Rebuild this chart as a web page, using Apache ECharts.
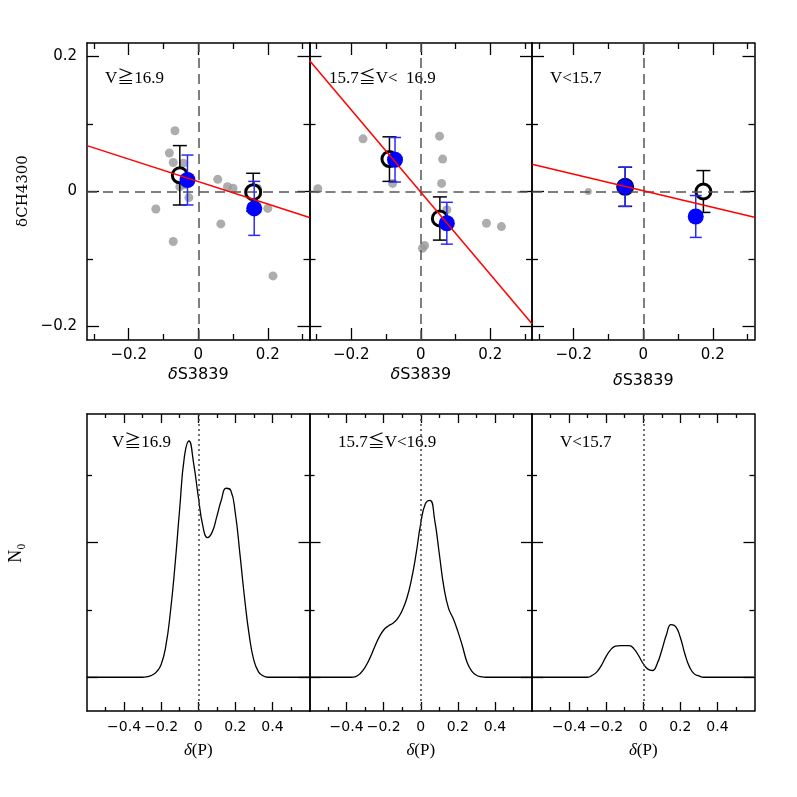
<!DOCTYPE html>
<html>
<head>
<meta charset="utf-8">
<script src="https://cdn.jsdelivr.net/npm/echarts@6/dist/echarts.min.js"></script>
<style>
  html, body { margin: 0; padding: 0; background: #fff; }
  #main { width: 797px; height: 797px; }
</style>
</head>
<body>
<div id="main"></div>
<script>
// ---- top row: dS3839 vs dCH4300 ----
var grey1 = [[-0.067,0.090],[-0.083,0.057],[-0.072,0.043],[-0.043,0.042],[-0.053,0.007],[-0.027,-0.009],
             [-0.040,0.010],[0.056,0.018],[0.084,0.007],[0.100,0.005],[-0.122,-0.026],[-0.072,-0.074],
             [0.065,-0.048],[0.170,0.005],[0.200,-0.025],[0.215,-0.125]];
var black1 = [[-0.053,0.024,0.044],[0.158,-0.001,0.028]];
var blue1 = [[-0.031,0.017,0.037],[0.161,-0.025,0.040]];
var fit1 = [[-0.32,0.068],[0.32,-0.0385]];

var grey2 = [[-0.166,0.078],[-0.296,0.004],[-0.081,0.012],[0.054,0.082],[0.063,0.048],[0.060,0.012],
             [0.075,-0.027],[0.005,-0.084],[0.011,-0.080],[0.189,-0.047],[0.232,-0.052]];
var black2 = [[-0.090,0.048,0.033],[0.055,-0.040,0.032]];
var blue2 = [[-0.074,0.047,0.033],[0.075,-0.047,0.031]];
var fit2 = [[-0.32,0.194],[0.32,-0.196]];

var grey3 = [[-0.158,0.0]];
var black3 = [[-0.052,0.007,0.029],[0.173,0.0,0.031]];
var blue3 = [[-0.052,0.007,0.029],[0.151,-0.037,0.031]];
var fit3 = [[-0.32,0.0405],[0.32,-0.038]];

// ---- bottom row: N0 vs d(P) ----
var curve1 = [[-0.6,0],[-0.3,0],[-0.275,0.01],[-0.25,0.03],[-0.225,0.08],[-0.2,0.19],[-0.175,0.46],[-0.15,0.97],
              [-0.125,1.67],[-0.1,2.50],[-0.075,3.26],[-0.05,3.50],[-0.025,3.17],[0,2.68],[0.025,2.24],[0.05,2.07],
              [0.075,2.15],[0.1,2.38],[0.125,2.63],[0.15,2.80],[0.175,2.77],[0.2,2.43],[0.225,1.82],[0.25,1.17],
              [0.275,0.62],[0.3,0.25],[0.325,0.08],[0.35,0.02],[0.375,0],[0.6,0]];
var curve2 = [[-0.6,0],[-0.375,0],[-0.35,0.01],[-0.325,0.06],[-0.3,0.15],[-0.275,0.28],[-0.25,0.44],[-0.225,0.59],
              [-0.2,0.70],[-0.175,0.76],[-0.15,0.80],[-0.125,0.87],[-0.1,0.99],[-0.075,1.17],[-0.05,1.45],[-0.025,1.83],
              [0,2.28],[0.025,2.57],[0.05,2.62],[0.075,2.33],[0.1,1.83],[0.125,1.33],[0.15,1.02],[0.175,0.87],
              [0.2,0.68],[0.225,0.46],[0.25,0.22],[0.275,0.09],[0.3,0.03],[0.325,0.01],[0.35,0],[0.6,0]];
var curve3 = [[-0.6,0],[-0.3,0],[-0.275,0.03],[-0.25,0.08],[-0.225,0.18],[-0.2,0.31],[-0.175,0.41],[-0.15,0.46],
              [-0.125,0.47],[-0.1,0.47],[-0.075,0.47],[-0.05,0.42],[-0.025,0.32],[0,0.20],[0.025,0.12],[0.05,0.10],
              [0.075,0.20],[0.1,0.40],[0.125,0.63],[0.15,0.78],[0.175,0.75],[0.2,0.59],[0.225,0.34],[0.25,0.15],
              [0.275,0.05],[0.3,0.02],[0.325,0],[0.6,0]];

// ticks
var topXMajor = [-0.2, 0, 0.2], topXMinor = [-0.3, -0.1, 0.1, 0.3];
var topYMajor = [-0.2, 0, 0.2], topYMinor = [-0.1, 0.1];
var botXMajor = [-0.4, -0.2, 0, 0.2, 0.4], botXMinor = [-0.5, -0.3, -0.1, 0.1, 0.3, 0.5];
var botYMajor = [0, 2], botYMinor = [1, 3];

var topLabels = ['V≧16.9', '15.7≦V<  16.9', 'V<15.7'];
var botLabels = ['V≧16.9', '15.7≦V<16.9', 'V<15.7'];

var chart = echarts.init(document.getElementById('main'));

var SANS = '"DejaVu Sans", sans-serif';
var SERIF = '"Liberation Serif", "DejaVu Serif", "Noto Sans CJK JP", serif';
var lefts = [87, 309.5, 532];
var W = 222.5;

function fmt(v) { return (v < 0 ? '\u2212' : '') + Math.abs(v); }

var grids = [], xAxes = [], yAxes = [], series = [];

function addPanel(gi, top, o) {
  grids.push({ left: lefts[gi % 3], top: top, width: W, height: 297 });
  var axLine = { show: true, onZero: false, lineStyle: { color: '#000', width: 1.5 } };
  var noLine = { show: false, onZero: false };
  var tickStyle = { color: '#000', width: 1.3 };
  ['bottom', 'top'].forEach(function (pos) {
    [[o.xMaj, o.majX], [o.xMin, o.minX]].forEach(function (t, k) {
      var main = pos === 'bottom' && k === 0;
      xAxes.push({
        gridIndex: gi, type: 'value', min: o.xr[0], max: o.xr[1], position: pos,
        axisLine: k === 0 ? axLine : noLine,
        axisTick: { show: true, inside: true, length: t[1], customValues: t[0], lineStyle: tickStyle },
        axisLabel: main ? { show: true, customValues: o.xLab, formatter: fmt, fontSize: o.labSize,
                            fontFamily: SANS, color: '#000', margin: o.labMargin } : { show: false },
        splitLine: { show: false },
        name: main ? o.xName : '', nameLocation: 'middle', nameGap: o.nameGap,
        nameTextStyle: { fontSize: o.nameSize, fontFamily: o.nameFont, color: '#000',
                         rich: { i: { fontStyle: 'italic', fontSize: o.nameSize, fontFamily: o.nameFont } } }
      });
    });
  });
  ['left', 'right'].forEach(function (pos) {
    [[o.yMaj, o.majY], [o.yMin, o.minY]].forEach(function (t, k) {
      var main = pos === 'left' && k === 0;
      yAxes.push({
        gridIndex: gi, type: 'value', min: o.yr[0], max: o.yr[1], position: pos,
        axisLine: k === 0 ? axLine : noLine,
        axisTick: { show: true, inside: true, length: t[1], customValues: t[0], lineStyle: tickStyle },
        axisLabel: (main && o.yLab) ? { show: true, customValues: o.yLab, formatter: fmt, fontSize: o.labSize,
                    fontFamily: SANS, color: '#000', margin: 10 } : { show: false },
        splitLine: { show: false }
      });
    });
  });
  return 4 * gi;
}

function errBars(ax, data, color, half, z) {
  return {
    type: 'custom', xAxisIndex: ax, yAxisIndex: ax, data: data, z: z, silent: true,
    renderItem: function (params, api) {
      var x = api.value(0), y = api.value(1), e = api.value(2);
      var t = api.coord([x, y + e]), b = api.coord([x, y - e]);
      var st = { stroke: color, lineWidth: 1.5 };
      return { type: 'group', children: [
        { type: 'line', shape: { x1: t[0], y1: t[1], x2: b[0], y2: b[1] }, style: st },
        { type: 'line', shape: { x1: t[0] - half, y1: t[1], x2: t[0] + half, y2: t[1] }, style: st },
        { type: 'line', shape: { x1: b[0] - half, y1: b[1], x2: b[0] + half, y2: b[1] }, style: st }
      ] };
    }
  };
}

var tops = [
  { grey: grey1, black: black1, blue: blue1, fit: fit1, gs: 9, gap: 27 },
  { grey: grey2, black: black2, blue: blue2, fit: fit2, gs: 9, gap: 27 },
  { grey: grey3, black: black3, blue: blue3, fit: fit3, gs: 7, gap: 33 }
];
tops.forEach(function (p, i) {
  var ax = addPanel(i, 43, {
    xr: [-0.32, 0.32], yr: [-0.22, 0.22],
    xMaj: topXMajor, xMin: topXMinor, yMaj: topYMajor, yMin: topYMinor,
    majX: 12, minX: 6, majY: 12, minY: 6,
    xLab: topXMajor, yLab: i === 0 ? topYMajor : null,
    labSize: 15, labMargin: 8, xName: '{i|δ}S3839', nameGap: p.gap, nameSize: 16, nameFont: SANS
  });
  series.push({
    type: 'scatter', xAxisIndex: ax, yAxisIndex: ax, data: p.grey, symbolSize: p.gs, z: 2,
    itemStyle: { color: '#999' }, silent: true,
    markLine: { silent: true, symbol: 'none', label: { show: false },
      lineStyle: { color: '#555', width: 1.5, type: [10, 6] },
      data: [{ xAxis: 0 }, { yAxis: 0 }] }
  });
  series.push(errBars(ax, p.black, '#000', 7, 3));
  series.push({ type: 'scatter', xAxisIndex: ax, yAxisIndex: ax, data: p.black, symbolSize: 15, z: 4,
    itemStyle: { color: '#fff', borderColor: '#000', borderWidth: 3, opacity: 1 } });
  series.push(errBars(ax, p.blue, '#2a2aff', 6, 5));
  series.push({ type: 'scatter', xAxisIndex: ax, yAxisIndex: ax, data: p.blue, symbolSize: 16, z: 6,
    itemStyle: { color: '#0000ff', opacity: 1 } });
  series.push({ type: 'line', xAxisIndex: ax, yAxisIndex: ax, data: p.fit, symbol: 'none', z: 7,
    lineStyle: { color: '#ff0000', width: 1.5 } });
});

[curve1, curve2, curve3].forEach(function (c, i) {
  var ax = addPanel(3 + i, 414, {
    xr: [-0.6, 0.6], yr: [-0.5, 3.9],
    xMaj: botXMajor, xMin: botXMinor, yMaj: botYMajor, yMin: botYMinor,
    majX: 9, minX: 4, majY: 11, minY: 5,
    xLab: botXMajor, yLab: null,
    labSize: 14, labMargin: 9, xName: '{i|δ}(P)', nameGap: 31, nameSize: 17, nameFont: SERIF
  });
  series.push({
    type: 'line', xAxisIndex: ax, yAxisIndex: ax, data: c, symbol: 'none', smooth: 0.5,
    lineStyle: { color: '#000', width: 1.3 }, z: 3,
    markLine: { silent: true, symbol: 'none', label: { show: false },
      lineStyle: { color: '#444', width: 1.5, type: [2, 3] }, data: [{ xAxis: 0 }] }
  });
});

var graphic = [];
var labTopX = [105, 329, 550], labBotX = [112, 338, 560];
topLabels.forEach(function (t, i) {
  graphic.push({ type: 'text', left: labTopX[i], top: 70,
    style: { text: t, fontSize: 17, fontFamily: SERIF, fill: '#000' } });
});
botLabels.forEach(function (t, i) {
  graphic.push({ type: 'text', left: labBotX[i], top: 434,
    style: { text: t, fontSize: 17, fontFamily: SERIF, fill: '#000' } });
});
graphic.push({ type: 'text', x: 23, y: 191, rotation: Math.PI / 2,
  style: { text: 'δCH4300', fontSize: 15, fontFamily: '"DejaVu Serif", serif', fill: '#000',
           textAlign: 'center', textVerticalAlign: 'middle' } });
graphic.push({ type: 'text', x: 16, y: 553, rotation: Math.PI / 2,
  style: { text: 'N\u2080', fontSize: 18, fontFamily: SERIF, fill: '#000',
           textAlign: 'center', textVerticalAlign: 'middle' } });

var option = {
  backgroundColor: '#fff',
  animation: false,
  grid: grids,
  xAxis: xAxes,
  yAxis: yAxes,
  series: series,
  graphic: graphic
};
chart.setOption(option);
</script>
</body>
</html>
